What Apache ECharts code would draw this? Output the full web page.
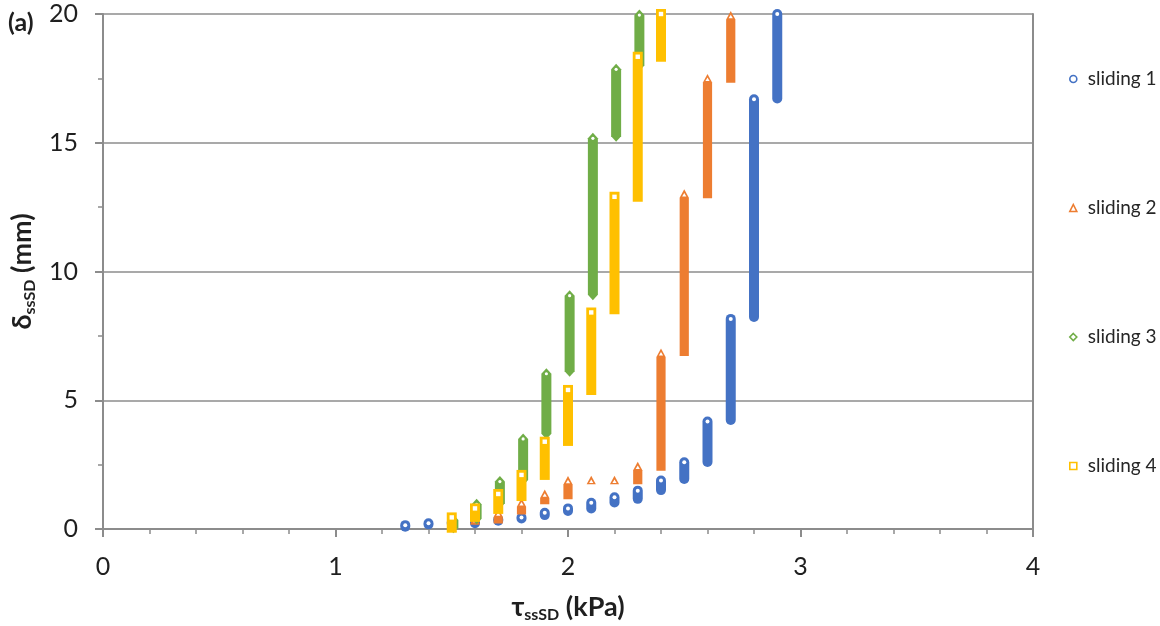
<!DOCTYPE html>
<html>
<head>
<meta charset="utf-8">
<title>Sliding displacement vs shear stress</title>
<script src="https://cdn.jsdelivr.net/npm/echarts@6/dist/echarts.min.js"></script>
<style>
  html, body { margin: 0; padding: 0; background: #fff; }
  #chart { width: 1160px; height: 626px; }
</style>
</head>
<body>
<div id="chart"></div>
<script>
// Each test records a column of displacement readings at every shear-stress step.
// For every step we keep the lowest and highest displacement (mm).

// sliding 1
const tau1  = [1.3, 1.4, 1.5, 1.6, 1.7, 1.8, 1.9, 2.0, 2.1, 2.2, 2.3, 2.4, 2.5, 2.6, 2.7, 2.8, 2.9];
const low1  = [0.09, 0.18, 0.20, 0.22, 0.32, 0.41, 0.54, 0.70, 0.80, 1.03, 1.17, 1.51, 1.94, 2.60, 4.23, 8.23, 16.72];
const high1 = [0.15, 0.22, 0.25, 0.26, 0.38, 0.45, 0.63, 0.80, 1.02, 1.23, 1.49, 1.88, 2.59, 4.17, 8.16, 16.69, 20.0];

// sliding 2
const tau2  = [1.5, 1.6, 1.7, 1.8, 1.9, 2.0, 2.1, 2.2, 2.3, 2.4, 2.5, 2.6, 2.7];
const low2  = [0.02, 0.30, 0.35, 0.70, 1.10, 1.29, 1.87, 1.87, 1.87, 2.40, 6.85, 12.98, 17.47];
const high2 = [0.05, 0.35, 0.60, 1.00, 1.34, 1.86, 1.87, 1.87, 2.42, 6.82, 13.0, 17.48, 19.92];

// sliding 3
const tau3  = [1.507, 1.607, 1.707, 1.807, 1.907, 2.007, 2.107, 2.207, 2.307];
const low3  = [0.05, 0.40, 1.00, 1.90, 3.70, 6.13, 9.10, 15.25, 18.0];
const high3 = [0.35, 0.96, 1.84, 3.50, 6.03, 9.06, 15.17, 17.85, 19.96];

// sliding 4
const tau4  = [1.5, 1.6, 1.7, 1.8, 1.9, 2.0, 2.1, 2.2, 2.3, 2.4];
const low4  = [0.05, 0.47, 0.78, 1.28, 2.10, 3.42, 5.40, 8.53, 12.9, 18.34];
const high4 = [0.45, 0.80, 1.36, 2.10, 3.39, 5.40, 8.41, 12.9, 18.34, 20.0];

const seriesNames = ['sliding 1', 'sliding 2', 'sliding 3', 'sliding 4'];
const seriesColors = ['#4472C4', '#ED7D31', '#70AD47', '#FFC000'];
const seriesMarkers = ['circle', 'triangle', 'diamond', 'rect'];

const xTicks = [0, 1, 2, 3, 4];
const yTicks = [0, 5, 10, 15, 20];

const FONT = 'Lato, "Open Sans", sans-serif';
const AXIS_GREY = '#8c8c8c';
const TEXT = '#1f1f1f';

function columns(tau, low, high) {
  return tau.map((t, i) => [t, low[i], high[i]]);
}

// Draws one column of overlapping hollow markers: a solid body in the series
// colour with the marker's outline at both ends and the open centre of the top marker.
function columnRenderer(marker, color) {
  return function (params, api) {
    const bottom = api.coord([api.value(0), api.value(1)]);
    const top = api.coord([api.value(0), api.value(2)]);
    const cx = top[0];
    const yT = top[1];
    const yB = bottom[1];
    const fill = { fill: color };
    const hole = { fill: '#ffffff' };
    const children = [];
    if (marker === 'circle') {
      children.push({ type: 'rect', shape: { x: cx - 5, y: yT - 5, width: 10, height: yB - yT + 10, r: 5 }, style: fill });
      children.push({ type: 'circle', shape: { cx: cx, cy: yT, r: 2 }, style: hole });
    } else if (marker === 'rect') {
      children.push({ type: 'rect', shape: { x: cx - 5, y: yT - 5, width: 10, height: yB - yT + 10 }, style: fill });
      children.push({ type: 'rect', shape: { x: cx - 2.2, y: yT - 2.2, width: 4.4, height: 4.4 }, style: hole });
    } else if (marker === 'triangle') {
      children.push({ type: 'polygon', shape: { points: [
        [cx, yT - 5], [cx + 4.6, yT + 3.5], [cx + 4.6, yB + 3.5], [cx - 4.6, yB + 3.5], [cx - 4.6, yT + 3.5]
      ] }, style: fill });
      children.push({ type: 'polygon', shape: { points: [
        [cx, yT - 1.3], [cx + 2.1, yT + 2.2], [cx - 2.1, yT + 2.2]
      ] }, style: hole });
    } else {
      children.push({ type: 'polygon', shape: { points: [
        [cx, yT - 5.5], [cx + 5, yT], [cx + 5, yB], [cx, yB + 5.5], [cx - 5, yB], [cx - 5, yT]
      ] }, style: fill });
      children.push({ type: 'circle', shape: { cx: cx, cy: yT, r: 1.6 }, style: hole });
    }
    return { type: 'group', children: children };
  };
}

const columnData = [
  columns(tau1, low1, high1),
  columns(tau2, low2, high2),
  columns(tau3, low3, high3),
  columns(tau4, low4, high4)
];

const series = seriesNames.map((name, i) => ({
  name: name,
  type: 'custom',
  clip: false,
  z: 2 + i,
  itemStyle: { color: seriesColors[i] },
  encode: { x: 0, y: [1, 2] },
  renderItem: columnRenderer(seriesMarkers[i], seriesColors[i]),
  data: columnData[i]
}));

const titleRich = {
  b: { fontFamily: FONT, fontSize: 27, fontWeight: 'bold', color: TEXT, lineHeight: 32 },
  s: { fontFamily: FONT, fontSize: 16, fontWeight: 'bold', color: TEXT, lineHeight: 32, verticalAlign: 'bottom', padding: [10, 0, 0, 0] }
};

const chart = echarts.init(document.getElementById('chart'), null, { renderer: 'canvas' });

chart.setOption({
  animation: false,
  backgroundColor: '#ffffff',
  textStyle: { fontFamily: FONT },
  title: {
    text: '{p|(a)}',
    left: 3,
    top: 3,
    textStyle: {
      rich: { p: { fontFamily: FONT, fontSize: 25, fontWeight: 'bold', color: TEXT, lineHeight: 30 } }
    }
  },
  grid: { left: 103, right: 127, top: 14, bottom: 97, outerBoundsMode: 'none', containLabel: false },
  legend: {
    orient: 'vertical',
    left: 1064,
    top: 64,
    itemGap: 109,
    itemWidth: 7,
    itemHeight: 7,
    selectedMode: false,
    textStyle: { fontFamily: FONT, fontSize: 19, color: '#262626', lineHeight: 20, padding: [0, 0, 0, 6] },
    data: seriesNames.map((name, i) => ({
      name: name,
      icon: seriesMarkers[i],
      itemStyle: { color: '#ffffff', borderColor: seriesColors[i], borderWidth: 1.6 }
    }))
  },
  xAxis: {
    type: 'value',
    min: xTicks[0],
    max: xTicks[xTicks.length - 1],
    interval: xTicks[1] - xTicks[0],
    name: '{b|τ}{s|ssSD}{b| (kPa)}',
    nameLocation: 'middle',
    nameGap: 62,
    nameTextStyle: { rich: titleRich },
    axisLine: { show: true, lineStyle: { color: AXIS_GREY, width: 2 } },
    axisTick: { show: true, length: 8, lineStyle: { color: AXIS_GREY, width: 2 } },
    minorTick: { show: true, splitNumber: 5, length: 5, lineStyle: { color: AXIS_GREY, width: 1.5 } },
    splitLine: { show: false },
    axisLabel: { fontFamily: FONT, fontSize: 25, color: TEXT, margin: 25 }
  },
  yAxis: [{
    type: 'value',
    min: yTicks[0],
    max: yTicks[yTicks.length - 1],
    interval: yTicks[1] - yTicks[0],
    name: '{b|δ}{s|ssSD}{b| (mm)}',
    nameLocation: 'middle',
    nameGap: 58,
    nameTextStyle: { rich: titleRich },
    axisLine: { show: true, lineStyle: { color: AXIS_GREY, width: 2 } },
    axisTick: { show: true, length: 8, lineStyle: { color: AXIS_GREY, width: 2 } },
    minorTick: { show: true, splitNumber: 2, length: 5, lineStyle: { color: AXIS_GREY, width: 1.5 } },
    splitLine: { show: true, lineStyle: { color: AXIS_GREY, width: 1.6 } },
    axisLabel: { fontFamily: FONT, fontSize: 25, color: TEXT, margin: 25 }
  }, {
    type: 'value',
    position: 'right',
    min: yTicks[0],
    max: yTicks[yTicks.length - 1],
    interval: yTicks[1] - yTicks[0],
    axisLine: { show: true, lineStyle: { color: AXIS_GREY, width: 2 } },
    axisTick: { show: false },
    axisLabel: { show: false },
    splitLine: { show: false }
  }],
  series: series
});
</script>
</body>
</html>
